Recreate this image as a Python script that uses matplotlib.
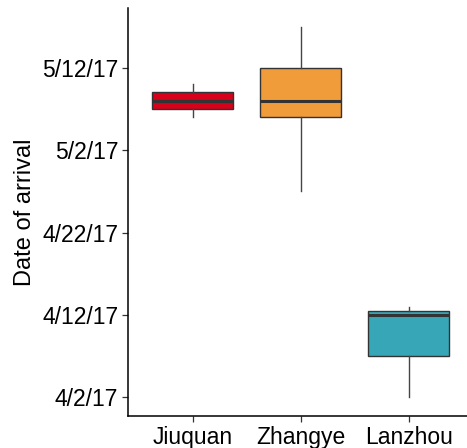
import datetime as dt
import matplotlib
matplotlib.use("Agg")
import matplotlib.pyplot as plt
import matplotlib.dates as mdates

plt.rcParams['font.family'] = ['Liberation Sans', 'DejaVu Sans']

# Arrival-date summaries per site (whisker low, Q1, median, Q3, whisker high)
sites = ["Jiuquan", "Zhangye", "Lanzhou"]
whislo = ["2017-05-06", "2017-04-27", "2017-04-02"]
q1 = ["2017-05-07", "2017-05-06", "2017-04-07"]
med = ["2017-05-08", "2017-05-08", "2017-04-12"]
q3 = ["2017-05-09", "2017-05-12", "2017-04-12 12:00"]
whishi = ["2017-05-10", "2017-05-17", "2017-04-13"]
colors = ["#D7011B", "#F09C3B", "#37A7B7"]
tick_dates = ["2017-04-02", "2017-04-12", "2017-04-22", "2017-05-02", "2017-05-12"]


def num(s):
    fmt = "%Y-%m-%d %H:%M" if " " in s else "%Y-%m-%d"
    return mdates.date2num(dt.datetime.strptime(s, fmt))


stats = []
for i, name in enumerate(sites):
    stats.append(dict(label=name, whislo=num(whislo[i]), q1=num(q1[i]),
                      med=num(med[i]), q3=num(q3[i]), whishi=num(whishi[i]),
                      fliers=[]))

fig = plt.figure(figsize=(4.67, 4.48), dpi=100)
ax = fig.add_axes([128 / 467, 1 - 416 / 448, 345.6 / 467, 408 / 448])

bp = ax.bxp(stats, positions=[1, 2, 3], widths=0.75, patch_artist=True,
            showcaps=False,
            boxprops=dict(edgecolor="#333333", linewidth=1.0),
            medianprops=dict(color="#333333", linewidth=2.2),
            whiskerprops=dict(color="#444444", linewidth=1.0))
for patch, c in zip(bp["boxes"], colors):
    patch.set_facecolor(c)

lo = min(num(s) for s in whislo)
hi = max(num(s) for s in whishi)
pad = (hi - lo) * 0.05
ax.set_ylim(lo - pad, hi + pad)
ax.set_xlim(0.4, 3.6)

ax.set_yticks([num(s) for s in tick_dates])
ax.set_yticklabels([f"{d.month}/{d.day}/{d.year % 100}"
                    for d in (dt.datetime.strptime(s, "%Y-%m-%d") for s in tick_dates)])
ax.set_xticks([1, 2, 3])
ax.set_xticklabels(sites)

for side in ("top", "right"):
    ax.spines[side].set_visible(False)
for side in ("left", "bottom"):
    ax.spines[side].set_linewidth(1.1)
    ax.spines[side].set_color("black")

ax.tick_params(axis="both", labelsize=16.5, length=4, width=0.9,
               color="#333333", labelcolor="black", pad=3)
ax.set_ylabel("Date of arrival", fontsize=17, labelpad=4)

fig.savefig("out.png", dpi=100)
